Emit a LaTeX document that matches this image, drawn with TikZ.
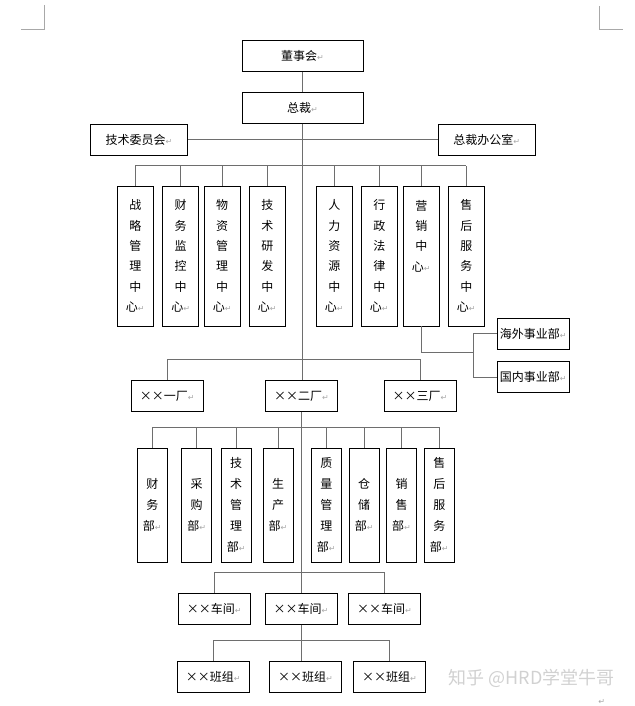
\documentclass[tikz,border=0pt]{standalone}
\usepackage{fontspec}
\setmainfont{Noto Sans CJK SC}
\newfontfamily\symfont{DejaVu Sans}
\usepackage{tikz}
\usetikzlibrary{positioning}
\definecolor{LinkGray}{HTML}{6E6E6E}
\definecolor{MarkGray}{HTML}{A8A8A8}
\newcommand\retmark{{\symfont\fontsize{8}{8}\selectfont\color{MarkGray}↵}}
\newcommand\timesx{\makebox[1em]{×}}
\tikzset{
  unitbox/.style={rectangle, draw=black, line width=0.8pt, minimum width=72pt, minimum height=31pt, inner sep=0pt, font=\fontsize{12}{14}\selectfont, align=center},
  headbox/.style={unitbox, minimum width=121pt},
  sidebox/.style={unitbox, minimum width=97pt},
  centerbox/.style={rectangle, draw=black, line width=0.8pt, minimum width=36pt, minimum height=140pt, inner sep=0pt, font=\fontsize{12}{20.4}\selectfont, align=center},
  deptbox/.style={centerbox, minimum width=30pt, minimum height=114pt, font=\fontsize{12}{21}\selectfont},
  link/.style={draw=LinkGray, line width=0.9pt},
  cropmark/.style={draw=MarkGray, line width=0.6pt}
}

\begin{document}
\begin{tikzpicture}[x=1pt, y=-1pt]
  \useasboundingbox (0,0) rectangle (634,706);
  % page corner marks
  \draw[cropmark] (44.3,5) -- (44.3,29.3) -- (20.7,29.3);
  \draw[cropmark] (599.3,6) -- (599.3,29.3) -- (623.3,29.3);

  % top level
  \node[headbox] (dsh) at (302.5,56) {董事会\retmark};
  \node[headbox] (zc) at (302.5,107.8) {总裁\retmark};
  \node[sidebox] (jswy) at (139,139.8) {技术委员会\retmark};
  \node[sidebox] (zcb) at (486.7,139.8) {总裁办公室\retmark};

  % centers
  \node[centerbox] (zlgl) at (135.3,256) {战\\略\\管\\理\\中\\心\retmark};
  \node[centerbox] (cwjk) at (180.7,256) {财\\务\\监\\控\\中\\心\retmark};
  \node[centerbox] (wzgl) at (222.2,256) {物\\资\\管\\理\\中\\心\retmark};
  \node[centerbox] (jsyf) at (267.3,256) {技\\术\\研\\发\\中\\心\retmark};
  \node[centerbox] (rlzy) at (334.3,256) {人\\力\\资\\源\\中\\心\retmark};
  \node[centerbox] (xzfl) at (379.3,256) {行\\政\\法\\律\\中\\心\retmark};
  \node[centerbox] (yxzx) at (421.3,256) {营\\销\\中\\心\retmark\\\mbox{}\\\mbox{}};
  \node[centerbox] (shzx) at (466.3,256) {售\\后\\服\\务\\中\\心\retmark};

  \node[unitbox] (hwsy) at (533.3,333.8) {海外事业部\retmark};
  \node[unitbox, below=11.4pt of hwsy] (gnsy) {国内事业部\retmark};

  % factories
  \node[unitbox] (yc) at (167.2,396) {\timesx\timesx 一厂\retmark};
  \node[unitbox] (ec) at (301.5,396) {\timesx\timesx 二厂\retmark};
  \node[unitbox] (sc) at (420,396) {\timesx\timesx 三厂\retmark};

  % departments
  \node[deptbox] (cwb) at (152.3,505.3) {财\\务\\部\retmark};
  \node[deptbox] (cgb) at (196.7,505.3) {采\\购\\部\retmark};
  \node[deptbox] (jsgl) at (236.2,505.3) {技\\术\\管\\理\\部\retmark};
  \node[deptbox] (scb) at (278,505.3) {生\\产\\部\retmark};
  \node[deptbox] (zlb) at (326.3,505.3) {质\\量\\管\\理\\部\retmark};
  \node[deptbox] (ccb) at (364.2,505.3) {仓\\储\\部\retmark};
  \node[deptbox] (xsb) at (401.5,505.3) {销\\售\\部\retmark};
  \node[deptbox] (shfw) at (439.3,505.3) {售\\后\\服\\务\\部\retmark};

  % workshops and teams
  \node[unitbox] (cj1) at (214.2,608.8) {\timesx\timesx 车间\retmark};
  \node[unitbox] (cj2) at (301,608.8) {\timesx\timesx 车间\retmark};
  \node[unitbox] (cj3) at (384.5,608.8) {\timesx\timesx 车间\retmark};
  \node[unitbox] (bz1) at (213.3,676.7) {\timesx\timesx 班组\retmark};
  \node[unitbox] (bz2) at (305.5,676.7) {\timesx\timesx 班组\retmark};
  \node[unitbox] (bz3) at (389.5,676.7) {\timesx\timesx 班组\retmark};

  \node[text=black!18, font=\fontsize{18}{18}\selectfont] (wm) at (531.5,678) {知乎 @HRD学堂牛哥};
  \node[inner sep=0pt] (endmark) at (601.7,702) {\retmark};

  % bar levels
  \coordinate (cbar) at (0,165.5);
  \coordinate (fbar) at (0,359.3);
  \coordinate (dbar) at (0,427.3);
  \coordinate (wbar) at (0,572.7);
  \coordinate (tbar) at (0,640);
  \coordinate (syfork) at (473.3,352.7);

  \draw[link] (dsh) -- (zc);
  \draw[link] (jswy) -- (zcb);
  \draw[link] (zc.south) -- (zc.south |- ec.north);
  \draw[link] (ec.south) -- (ec.south |- cj2.north);
  \draw[link] (cj2.south) -- (cj2.south |- bz2.north);

  \draw[link] (zlgl.north |- cbar) -- (shzx.north |- cbar);
  \draw[link] (zlgl.north) -- (zlgl.north |- cbar);
  \draw[link] (cwjk.north) -- (cwjk.north |- cbar);
  \draw[link] (wzgl.north) -- (wzgl.north |- cbar);
  \draw[link] (jsyf.north) -- (jsyf.north |- cbar);
  \draw[link] (rlzy.north) -- (rlzy.north |- cbar);
  \draw[link] (xzfl.north) -- (xzfl.north |- cbar);
  \draw[link] (yxzx.north) -- (yxzx.north |- cbar);
  \draw[link] (shzx.north) -- (shzx.north |- cbar);

  \draw[link] (yxzx.south) |- (syfork);
  \draw[link] (hwsy.west) -- (hwsy.west -| syfork) -- (gnsy.west -| syfork) -- (gnsy.west);

  \draw[link] (yc.north |- fbar) -- (sc.north |- fbar);
  \draw[link] (yc.north) -- (yc.north |- fbar);
  \draw[link] (sc.north) -- (sc.north |- fbar);

  \draw[link] (cwb.north |- dbar) -- (shfw.north |- dbar);
  \draw[link] (cwb.north) -- (cwb.north |- dbar);
  \draw[link] (cgb.north) -- (cgb.north |- dbar);
  \draw[link] (jsgl.north) -- (jsgl.north |- dbar);
  \draw[link] (scb.north) -- (scb.north |- dbar);
  \draw[link] (zlb.north) -- (zlb.north |- dbar);
  \draw[link] (ccb.north) -- (ccb.north |- dbar);
  \draw[link] (xsb.north) -- (xsb.north |- dbar);
  \draw[link] (shfw.north) -- (shfw.north |- dbar);

  \draw[link] (cj1.north |- wbar) -- (cj3.north |- wbar);
  \draw[link] (cj1.north) -- (cj1.north |- wbar);
  \draw[link] (cj3.north) -- (cj3.north |- wbar);

  \draw[link] (bz1.north |- tbar) -- (bz3.north |- tbar);
  \draw[link] (bz1.north) -- (bz1.north |- tbar);
  \draw[link] (bz3.north) -- (bz3.north |- tbar);
\end{tikzpicture}
\end{document}
